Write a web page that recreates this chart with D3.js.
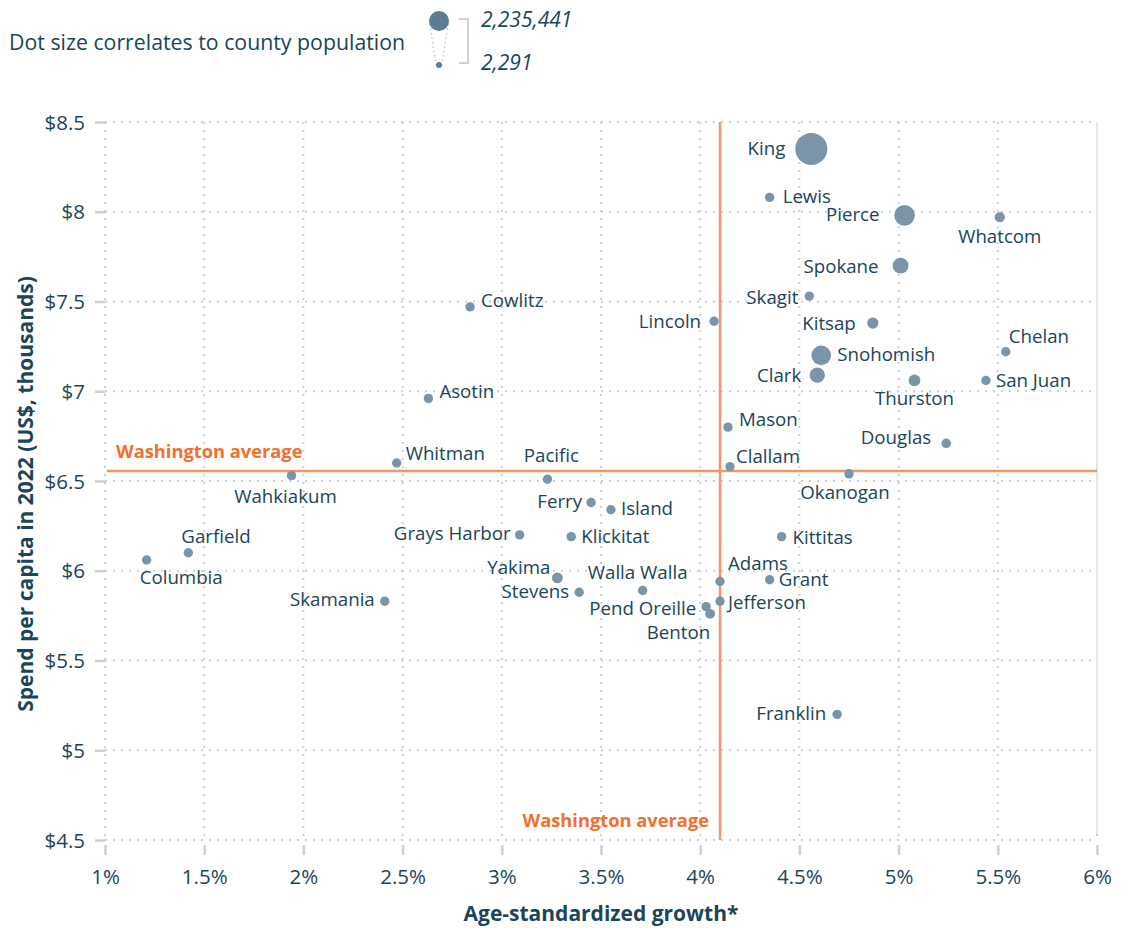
<!DOCTYPE html>
<html>
<head>
<meta charset="utf-8">
<script src="https://cdn.jsdelivr.net/npm/d3@7"></script>
<style>
  body { margin: 0; background: #fff; }
  svg { font-family: "Open Sans", "Noto Sans", sans-serif; }
</style>
</head>
<body>
<svg id="chart"></svg>
<script>
const counties = ['King', 'Lewis', 'Pierce', 'Whatcom', 'Spokane', 'Skagit', 'Kitsap', 'Lincoln', 'Cowlitz',
  'Chelan', 'Snohomish', 'Clark', 'Thurston', 'San Juan', 'Asotin', 'Mason', 'Douglas', 'Whitman', 'Clallam',
  'Pacific', 'Wahkiakum', 'Okanogan', 'Ferry', 'Island', 'Grays Harbor', 'Klickitat', 'Kittitas', 'Garfield',
  'Columbia', 'Yakima', 'Walla Walla', 'Stevens', 'Adams', 'Grant', 'Jefferson', 'Pend Oreille', 'Benton',
  'Skamania', 'Franklin'];
// age-standardized growth, %
const growth = [4.56, 4.35, 5.03, 5.51, 5.01, 4.55, 4.87, 4.07, 2.84,
  5.54, 4.61, 4.59, 5.08, 5.44, 2.63, 4.14, 5.24, 2.47, 4.15,
  3.23, 1.94, 4.75, 3.45, 3.55, 3.09, 3.35, 4.41, 1.42,
  1.21, 3.28, 3.71, 3.39, 4.10, 4.35, 4.10, 4.03, 4.05,
  2.41, 4.69];
// spend per capita 2022, US$ thousands
const spend = [8.35, 8.08, 7.98, 7.97, 7.70, 7.53, 7.38, 7.39, 7.47,
  7.22, 7.20, 7.09, 7.06, 7.06, 6.96, 6.80, 6.71, 6.60, 6.58,
  6.51, 6.53, 6.54, 6.38, 6.34, 6.20, 6.19, 6.19, 6.10,
  6.06, 5.96, 5.89, 5.88, 5.94, 5.95, 5.83, 5.80, 5.76,
  5.83, 5.20];
const population = [2235441, 84000, 928000, 230000, 547000, 131000, 277000, 11000, 112000,
  80000, 840000, 516000, 300000, 18000, 22500, 67000, 44000, 47000, 78000,
  24000, 4500, 43000, 7400, 87000, 77000, 23000, 46000, 2291,
  4000, 257000, 62000, 47000, 20000, 101000, 33000, 14000, 212000,
  12000, 98000];
// label placement: [dx, dy, anchor]
const labelPos = [[-26, 6, 'end'], [13, 6, 'start'], [-25, 6, 'end'], [0, 26, 'middle'], [-22, 7, 'end'],
  [-11, 8, 'end'], [-17, 7, 'end'], [-13, 7, 'end'], [11, 0, 'start'],
  [3, -9, 'start'], [16, 6, 'start'], [-16, 7, 'end'], [0, 25, 'middle'], [10, 7, 'start'],
  [11, 0, 'start'], [11, -1, 'start'], [-15, 1, 'end'], [9, -3, 'start'], [6, -4, 'start'],
  [4, -17, 'middle'], [-6, 27, 'middle'], [-4, 25, 'middle'], [-9, 5, 'end'], [10, 5, 'start'],
  [-9, 5, 'end'], [10, 6, 'start'], [11, 7, 'start'], [-7, -10, 'start'],
  [-7, 24, 'start'], [-7, -4, 'end'], [-5, -11, 'middle'], [-10, 6, 'end'], [8, -12, 'start'],
  [9, 6, 'start'], [8, 8, 'start'], [-10, 8, 'end'], [0, 25, 'end'],
  [-10, 5, 'end'], [-11, 6, 'end']];
const xTicks = [1, 1.5, 2, 2.5, 3, 3.5, 4, 4.5, 5, 5.5, 6];
const yTicks = [4.5, 5, 5.5, 6, 6.5, 7, 7.5, 8, 8.5];
const avgGrowth = 4.1, avgSpend = 6.556;
const popRange = [2291, 2235441];

const width = 1136, height = 928;
const margin = { top: 122, right: 39, bottom: 88, left: 105 };
const textColor = '#1b4559', dotColor = '#7b95a8', gridColor = '#c5d0d8', orange = '#f79466';

const svg = d3.select('#chart')
  .attr('width', width)
  .attr('height', height);

const x = d3.scaleLinear().domain([1, 6]).range([margin.left, width - margin.right]);
const y = d3.scaleLinear().domain([4.5, 8.5]).range([height - margin.bottom, margin.top]);
const r = d3.scaleSqrt().domain([0, popRange[1]]).range([0, 16]);

// grid
svg.append('g').selectAll('line')
  .data(yTicks)
  .enter()
  .append('line')
  .attr('x1', x(1)).attr('x2', x(6))
  .attr('y1', d => y(d)).attr('y2', d => y(d))
  .attr('stroke', gridColor).attr('stroke-width', 2)
  .attr('stroke-dasharray', '2 6');

svg.append('g').selectAll('line')
  .data(xTicks)
  .enter()
  .append('line')
  .attr('x1', d => x(d)).attr('x2', d => x(d))
  .attr('y1', y(8.5)).attr('y2', y(4.5))
  .attr('stroke', gridColor).attr('stroke-width', 2)
  .attr('stroke-dasharray', '2 6');

svg.append('line')
  .attr('x1', x(6)).attr('x2', x(6))
  .attr('y1', y(8.5)).attr('y2', y(4.5) - 6)
  .attr('stroke', '#e3e8ec').attr('stroke-width', 2);

// axes
const yAxis = svg.append('g')
  .attr('transform', `translate(${margin.left},0)`)
  .call(d3.axisLeft(y).tickValues(yTicks).tickSize(10).tickPadding(10)
    .tickFormat(d => '$' + d3.format('~g')(d)));
const xAxis = svg.append('g')
  .attr('transform', `translate(0,${height - margin.bottom + 5})`)
  .call(d3.axisBottom(x).tickValues(xTicks).tickSize(10).tickPadding(14)
    .tickFormat(d => d + '%'));
[yAxis, xAxis].forEach(a => {
  a.select('.domain').remove();
  a.selectAll('.tick line').attr('stroke', '#c9d3da').attr('stroke-width', 2.5);
  a.selectAll('.tick text')
    .style('font-family', '"Open Sans", sans-serif')
    .style('font-size', '20.5px')
    .attr('fill', textColor);
});
yAxis.selectAll('.tick text').attr('dy', '0.35em');

// washington average lines
svg.append('line')
  .attr('x1', x(1) + 2).attr('x2', x(6))
  .attr('y1', y(avgSpend)).attr('y2', y(avgSpend))
  .attr('stroke', orange).attr('stroke-width', 2.5);
svg.append('line')
  .attr('x1', x(avgGrowth)).attr('x2', x(avgGrowth))
  .attr('y1', y(8.5)).attr('y2', y(4.5))
  .attr('stroke', orange).attr('stroke-width', 2.5);

svg.append('text')
  .attr('x', x(1) + 11).attr('y', y(avgSpend) - 13)
  .text('Washington average')
  .style('font-size', '18.3px').style('font-weight', 700)
  .attr('fill', '#f26f2f');
svg.append('text')
  .attr('x', x(avgGrowth) - 11).attr('y', y(4.5) - 13)
  .attr('text-anchor', 'end')
  .text('Washington average')
  .style('font-size', '18.3px').style('font-weight', 700)
  .attr('fill', '#f26f2f');

// dots
const points = counties.map((c, i) => ({
  name: c, g: growth[i], s: spend[i], pop: population[i], lp: labelPos[i]
}));

svg.append('g').selectAll('circle')
  .data(points)
  .enter()
  .append('circle')
  .attr('cx', d => x(d.g))
  .attr('cy', d => y(d.s))
  .attr('r', d => Math.max(4.7, r(d.pop)))
  .attr('fill', dotColor);

svg.append('g').selectAll('text')
  .data(points)
  .enter()
  .append('text')
  .attr('x', d => x(d.g) + d.lp[0])
  .attr('y', d => y(d.s) + d.lp[1])
  .attr('text-anchor', d => d.lp[2])
  .text(d => d.name)
  .style('font-size', '18.7px')
  .attr('fill', textColor);

// axis titles
svg.append('text')
  .attr('x', (x(1) + x(6)) / 2).attr('y', 921)
  .attr('text-anchor', 'middle')
  .text('Age-standardized growth*')
  .style('font-size', '21px').style('font-weight', 700)
  .attr('fill', textColor);
svg.append('text')
  .attr('transform', `translate(33,${(y(4.5) + y(8.5)) / 2 + 13}) rotate(-90)`)
  .attr('text-anchor', 'middle')
  .text('Spend per capita in 2022 (US$, thousands)')
  .style('font-size', '21px').style('font-weight', 700)
  .attr('fill', textColor);

// size legend
const legend = svg.append('g');
legend.append('text')
  .attr('x', 9).attr('y', 50)
  .text('Dot size correlates to county population')
  .style('font-size', '21.3px')
  .attr('fill', textColor);
const lx = 439, bigR = 10, smallR = 3, bigY = 21, smallY = 65;
legend.append('path')
  .attr('d', `M${lx - bigR + 1},${bigY + 3}L${lx - smallR},${smallY}M${lx + bigR - 1},${bigY + 3}L${lx + smallR},${smallY}`)
  .attr('stroke', '#bccad4').attr('stroke-width', 1.5)
  .attr('stroke-dasharray', '1.5 3').attr('fill', 'none');
legend.append('circle').attr('cx', lx).attr('cy', bigY).attr('r', bigR).attr('fill', '#587d94');
legend.append('circle').attr('cx', lx).attr('cy', smallY).attr('r', smallR).attr('fill', '#587d94');
legend.append('path')
  .attr('d', `M459,19H468V63H459`)
  .attr('stroke', '#c9d3da').attr('stroke-width', 2).attr('fill', 'none');
legend.selectAll('.lv')
  .data(popRange.slice().reverse())
  .enter()
  .append('text')
  .attr('x', 481)
  .attr('y', (d, i) => i === 0 ? 27 : 70)
  .text(d => d3.format(',')(d))
  .style('font-size', '21px').style('font-style', 'italic')
  .attr('fill', textColor);
</script>
</body>
</html>
